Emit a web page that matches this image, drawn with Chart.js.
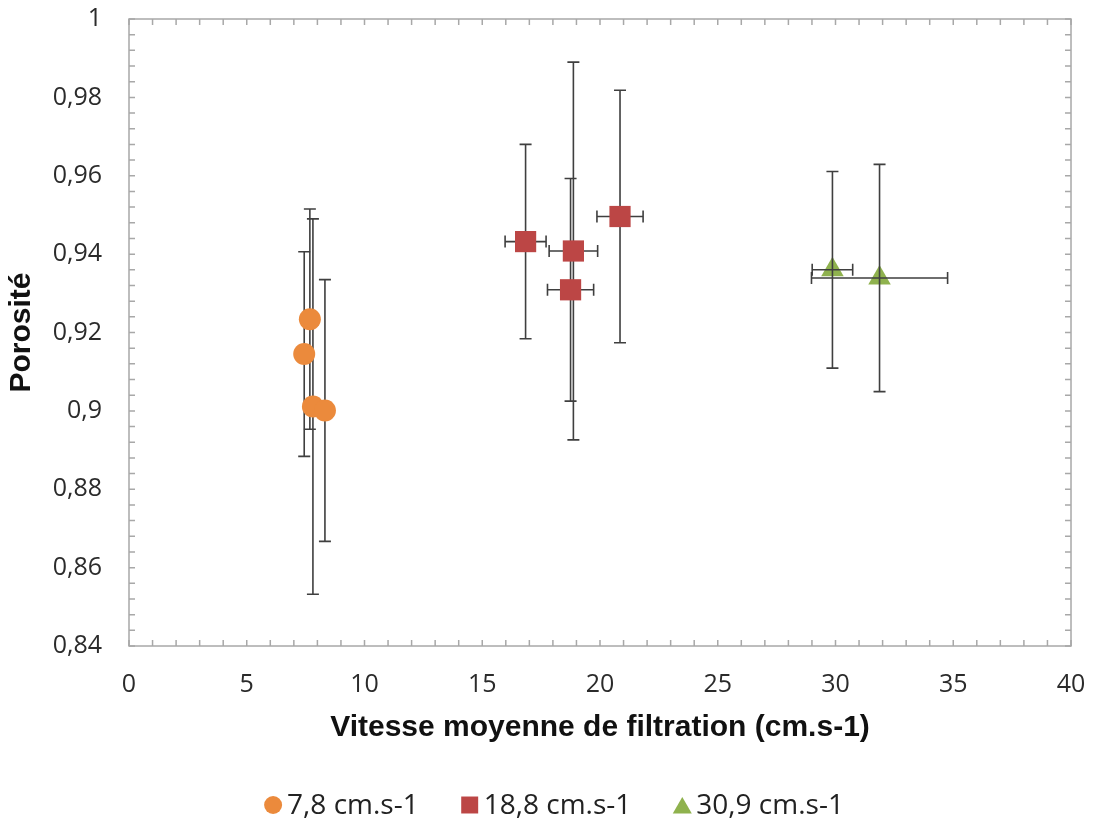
<!DOCTYPE html>
<html><head><meta charset="utf-8">
<script src="https://cdn.jsdelivr.net/npm/chart.js@4.4.1/dist/chart.umd.min.js"></script>
<style>html,body{margin:0;padding:0;background:#fff}#wrap{width:1093px;height:823px}</style>
</head><body><div id="wrap"><canvas id="c" width="1093" height="823"></canvas></div>
<script>
const seriesLabels = ['7,8 cm.s-1', '18,8 cm.s-1', '30,9 cm.s-1'];

const orangeX    = [7.44, 7.68, 7.81, 8.32];
const orangeY    = [0.9145, 0.9234, 0.9011, 0.9001];
const orangeErrY = [0.0261, 0.0281, 0.0479, 0.0334];
const orangeErrX = [0, 0, 0, 0];

const redX    = [16.84, 18.87, 18.75, 20.85];
const redY    = [0.9432, 0.9408, 0.9309, 0.9496];
const redErrY = [0.0248, 0.0482, 0.0284, 0.0322];
const redErrX = [0.87, 1.03, 0.98, 0.98];

const greenX    = [29.87, 31.87];
const greenY    = [0.9360, 0.9339];
const greenErrY = [0.0251, 0.0290];
const greenErrX = [0.86, 2.89];

const xTickLabels = ['0', '5', '10', '15', '20', '25', '30', '35', '40'];
const yTickLabels = ['0,84', '0,86', '0,88', '0,9', '0,92', '0,94', '0,96', '0,98', '1'];
const xTitle = 'Vitesse moyenne de filtration (cm.s-1)';
const yTitle = 'Porosité';

const colors = ['#EB8A3C', '#BC4645', '#8FB24E'];
const styles = ['circle', 'rect', 'triangle'];
const radii = [11, 15, 13];
const legendRadii = [9, 12, 11];
const xsData = [orangeX, redX, greenX];
const ysData = [orangeY, redY, greenY];
const errYs = [orangeErrY, redErrY, greenErrY];
const errXs = [orangeErrX, redErrX, greenErrX];
const errOnTop = [false, false, true];

function pts(xs, ys) { return xs.map((x, i) => ({x: x, y: ys[i]})); }

const datasets = seriesLabels.map((lab, i) => ({
  label: lab,
  data: pts(xsData[i], ysData[i]),
  pointStyle: styles[i],
  pointRadius: radii[i],
  pointHoverRadius: radii[i],
  pointBackgroundColor: colors[i],
  pointBorderColor: colors[i],
  pointBorderWidth: 0,
  showLine: false
}));

function drawErr(chart, i) {
  const ctx = chart.ctx, xs = chart.scales.x, ys = chart.scales.y;
  ctx.save();
  ctx.strokeStyle = '#3f3f3f';
  ctx.lineWidth = 1.6;
  const cap = 6;
  xsData[i].forEach((xv, j) => {
    const yv = ysData[i][j];
    const px = xs.getPixelForValue(xv), py = ys.getPixelForValue(yv);
    const ey = errYs[i][j], ex = errXs[i][j];
    ctx.beginPath();
    if (ey > 0) {
      const t = ys.getPixelForValue(yv + ey), b = ys.getPixelForValue(yv - ey);
      ctx.moveTo(px, t); ctx.lineTo(px, b);
      ctx.moveTo(px - cap, t); ctx.lineTo(px + cap, t);
      ctx.moveTo(px - cap, b); ctx.lineTo(px + cap, b);
    }
    if (ex > 0) {
      const l = xs.getPixelForValue(xv - ex), r = xs.getPixelForValue(xv + ex);
      ctx.moveTo(l, py); ctx.lineTo(r, py);
      ctx.moveTo(l, py - cap); ctx.lineTo(l, py + cap);
      ctx.moveTo(r, py - cap); ctx.lineTo(r, py + cap);
    }
    ctx.stroke();
  });
  ctx.restore();
}

const framePlugin = {
  id: 'frame',
  beforeDatasetsDraw(chart) {
    const ctx = chart.ctx, a = chart.chartArea, xs = chart.scales.x, ys = chart.scales.y;
    ctx.save();
    ctx.strokeStyle = '#a8a8a8';
    ctx.lineWidth = 1.5;
    ctx.strokeRect(a.left, a.top, a.right - a.left, a.bottom - a.top);
    ctx.beginPath();
    const tl = 6;
    for (let v = 0; v <= 40.0001; v += 1) {
      const px = xs.getPixelForValue(v);
      ctx.moveTo(px, a.bottom); ctx.lineTo(px, a.bottom - tl);
      ctx.moveTo(px, a.top); ctx.lineTo(px, a.top + tl);
    }
    for (let k = 0; k <= 40; k++) {
      const v = 0.84 + k * 0.004;
      const py = ys.getPixelForValue(v);
      ctx.moveTo(a.left, py); ctx.lineTo(a.left + tl, py);
      ctx.moveTo(a.right, py); ctx.lineTo(a.right - tl, py);
    }
    ctx.stroke();
    ctx.restore();
  },
  beforeDatasetDraw(chart, args) { if (!errOnTop[args.index]) drawErr(chart, args.index); },
  afterDatasetDraw(chart, args) { if (errOnTop[args.index]) drawErr(chart, args.index); }
};

const legendPlugin = {
  id: 'customLegend',
  afterDraw(chart) {
    const ctx = chart.ctx;
    ctx.save();
    ctx.font = '28px "Open Sans"';
    ctx.textBaseline = 'middle';
    const gapText = 14, gapNext = 51;
    const widths = chart.data.datasets.map(d => ctx.measureText(d.label).width);
    let total = 0;
    widths.forEach((w, i) => { total += gapText + w + (i < widths.length - 1 ? gapNext : 0); });
    total += 10;
    let x = chart.width / 2 + 7 - total / 2 + 10;
    const y = 805;
    chart.data.datasets.forEach((d, i) => {
      ctx.fillStyle = colors[i];
      Chart.helpers.drawPoint(ctx, {pointStyle: styles[i], radius: legendRadii[i], rotation: 0, borderWidth: 0}, x, y + (styles[i] === 'triangle' ? 3 : 0));
      ctx.fillStyle = '#222';
      ctx.fillText(d.label, x + gapText, y + 1);
      x += gapText + widths[i] + gapNext;
    });
    ctx.restore();
  }
};

new Chart(document.getElementById('c'), {
  type: 'scatter',
  data: {datasets: datasets},
  plugins: [framePlugin, legendPlugin],
  options: {
    responsive: false,
    devicePixelRatio: 1,
    animation: false,
    events: [],
    layout: {padding: {top: 19, right: 22, left: 0, bottom: 0}},
    plugins: {legend: {display: false}, tooltip: {enabled: false}},
    scales: {
      x: {
        type: 'linear', min: 0, max: 40,
        grid: {display: false, drawTicks: false},
        border: {display: false},
        afterFit(s) { s.height = 177; s.paddingLeft = 0; s.paddingRight = 0; },
        ticks: {
          stepSize: 5, padding: 24, color: '#2b2b2b', maxRotation: 0,
          font: {family: '"Open Sans"', size: 25},
          callback: (v, i) => xTickLabels[i]
        },
        title: {display: true, text: xTitle, color: '#111',
          font: {family: '"Liberation Sans", Arial', size: 30, weight: 'bold'},
          padding: {top: 0, bottom: 77}}
      },
      y: {
        type: 'linear', min: 0.84, max: 1,
        grid: {display: false, drawTicks: false},
        border: {display: false},
        afterFit(s) { s.width = 129; s.paddingTop = 0; s.paddingBottom = 0; },
        ticks: {
          stepSize: 0.02, padding: 27, color: '#2b2b2b',
          font: {family: '"Open Sans"', size: 25},
          callback: (v, i) => yTickLabels[i]
        },
        title: {display: true, text: yTitle, color: '#111',
          font: {family: '"Liberation Sans", Arial', size: 30, weight: 'bold'},
          padding: {top: 4, bottom: 0}}
      }
    }
  }
});
</script>
</body></html>
